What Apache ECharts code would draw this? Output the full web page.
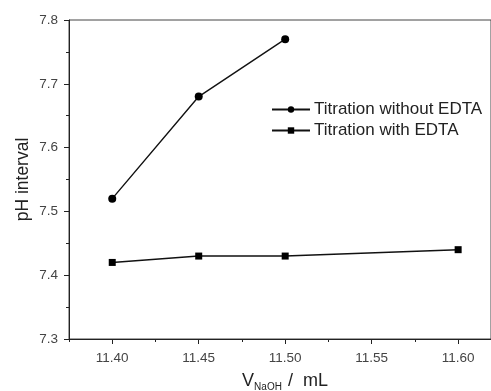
<!DOCTYPE html>
<html>
<head>
<meta charset="utf-8">
<script src="https://cdn.jsdelivr.net/npm/echarts@6/dist/echarts.min.js"></script>
<style>
  html, body { margin: 0; padding: 0; background: #fff; }
  #chart { width: 491px; height: 391px; }
</style>
</head>
<body>
<div id="chart"></div>
<script>
// data
const seriesNames = ['Titration without EDTA', 'Titration with EDTA']
const volWithout = [11.40, 11.45, 11.50]
const phWithout = [7.52, 7.68, 7.77]
const volWith = [11.40, 11.45, 11.50, 11.60]
const phWith = [7.42, 7.43, 7.43, 7.44]
const xMajorTicks = [11.40, 11.45, 11.50, 11.55, 11.60]
const xMinorTicks = [11.375, 11.425, 11.475, 11.525, 11.575]

const chart = echarts.init(document.getElementById('chart'))

const font = 'Liberation Sans, Arial, sans-serif'
const axisColor = '#222'

const pairs = (xs, ys) => xs.map((x, i) => [x, ys[i]])

chart.setOption({
  animation: false,
  grid: {
    left: 69, top: 20, right: 0, bottom: 52,
    outerBoundsMode: 'none',
    containLabel: false,
    show: true, borderColor: '#444', borderWidth: 1
  },
  legend: {
    left: 266, top: 96,
    orient: 'vertical',
    itemWidth: 38, itemHeight: 8, itemGap: 4,
    textStyle: { fontFamily: font, fontSize: 17, color: '#222', padding: [0, 0, 0, -1] },
    data: seriesNames
  },
  xAxis: [
    {
      type: 'value',
      min: 11.375, max: 11.619,
      splitLine: { show: false },
      axisLine: { lineStyle: { color: axisColor, width: 1 } },
      axisTick: { customValues: xMajorTicks, length: 5, lineStyle: { color: axisColor } },
      axisLabel: {
        customValues: xMajorTicks,
        formatter: v => v.toFixed(2),
        fontFamily: font, fontSize: 13.5, color: '#444', margin: 12
      },
      name: '{a|V}{b|NaOH}{a| /  mL}',
      nameLocation: 'middle',
      nameGap: 31,
      nameTextStyle: {
        padding: [0, 0, 0, 10],
        rich: {
          a: { fontFamily: font, fontSize: 18, color: '#222' },
          b: { fontFamily: font, fontSize: 10, color: '#222', padding: [12, 1, 0, 0] }
        }
      }
    },
    {
      type: 'value',
      position: 'bottom',
      min: 11.375, max: 11.619,
      splitLine: { show: false },
      axisLine: { show: false },
      axisTick: { customValues: xMinorTicks, length: 3, lineStyle: { color: axisColor } },
      axisLabel: { show: false }
    }
  ],
  yAxis: {
    type: 'value',
    min: 7.3, max: 7.8, interval: 0.1,
    splitLine: { show: false },
    axisLine: { show: true, lineStyle: { color: axisColor, width: 1 } },
    axisTick: { show: true, length: 5, lineStyle: { color: axisColor } },
    minorTick: { show: true, splitNumber: 2, length: 3, lineStyle: { color: axisColor } },
    axisLabel: {
      formatter: v => v.toFixed(1),
      fontFamily: font, fontSize: 13.5, color: '#444', margin: 11
    },
    name: 'pH interval',
    nameLocation: 'middle',
    nameMoveOverlap: false,
    nameGap: 37,
    nameTextStyle: { fontFamily: font, fontSize: 17.5, color: '#222' }
  },
  series: [
    {
      name: seriesNames[0],
      type: 'line',
      data: pairs(volWithout, phWithout),
      symbol: 'circle', symbolSize: 8,
      lineStyle: { color: '#111', width: 1.4 },
      itemStyle: { color: '#000' }
    },
    {
      name: seriesNames[1],
      type: 'line',
      data: pairs(volWith, phWith),
      symbol: 'rect', symbolSize: 7,
      lineStyle: { color: '#111', width: 1.4 },
      itemStyle: { color: '#000' }
    }
  ]
})
</script>
</body>
</html>
